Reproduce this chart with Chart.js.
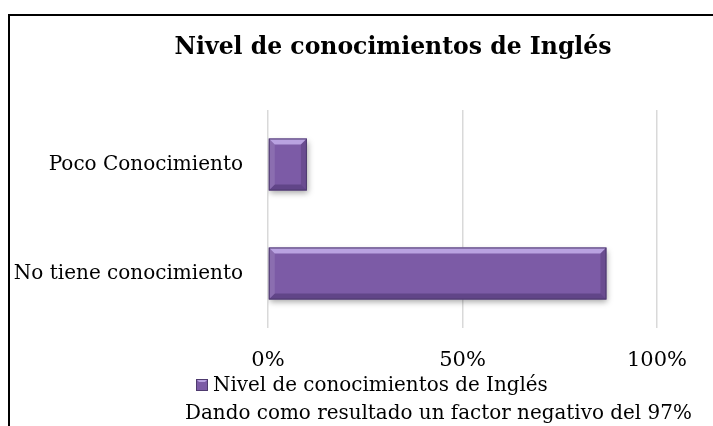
<!DOCTYPE html>
<html><head><meta charset="utf-8">
<script src="https://cdn.jsdelivr.net/npm/chart.js@4"></script>
<style>
html,body{margin:0;padding:0;background:#fff;overflow:hidden;}
#wrap{position:absolute;left:0;top:0;width:713px;height:426px;}
#frame{position:absolute;left:8px;top:14px;width:720px;height:430px;border-left:2px solid #000;border-top:2px solid #000;box-sizing:border-box;}
canvas{position:absolute;left:0;top:0;}
</style></head><body>
<div id="wrap"><canvas id="c" width="713" height="426"></canvas><div id="frame"></div></div>
<script>
const categories = ['Poco Conocimiento', 'No tiene conocimiento'];
const seriesName = 'Nivel de conocimientos de Inglés';
const values = [10, 87];
const xTickValues = [0, 50, 100];
const titleText = 'Nivel de conocimientos de Inglés';
const captionText = 'Dando como resultado un factor negativo del 97%';

const SERIF = '"DejaVu Serif", "Liberation Serif", serif';
const BAR = '#7c5ba6';

function fitFont(ctx, text, weight, target) {
  ctx.font = weight + ' 20px ' + SERIF;
  const w = ctx.measureText(text).width;
  const size = 20 * target / w;
  return weight + ' ' + size.toFixed(2) + 'px ' + SERIF;
}

const decor = {
  id: 'decor',
  beforeDatasetsDraw(chart) {
    const ctx = chart.ctx;
    ctx.save();
    ctx.shadowColor = 'rgba(0,0,0,0.35)';
    ctx.shadowBlur = 6;
    ctx.shadowOffsetX = 1;
    ctx.shadowOffsetY = 3;
  },
  afterDatasetsDraw(chart) {
    const ctx = chart.ctx;
    ctx.restore();
    const meta = chart.getDatasetMeta(0);
    meta.data.forEach(el => {
      const p = el.getProps(['x', 'y', 'base', 'height'], true);
      const l = Math.min(p.x, p.base), r = Math.max(p.x, p.base);
      const t = p.y - p.height / 2, b = p.y + p.height / 2;
      const bv = 6;
      ctx.save();
      ctx.fillStyle = 'rgba(200,180,240,0.8)';
      ctx.beginPath(); ctx.moveTo(l, t); ctx.lineTo(r, t); ctx.lineTo(r - bv, t + bv); ctx.lineTo(l + bv, t + bv); ctx.closePath(); ctx.fill();
      ctx.fillStyle = 'rgba(50,30,80,0.35)';
      ctx.beginPath(); ctx.moveTo(l, b); ctx.lineTo(r, b); ctx.lineTo(r - bv, b - bv); ctx.lineTo(l + bv, b - bv); ctx.closePath(); ctx.fill();
      ctx.fillStyle = 'rgba(50,30,80,0.25)';
      ctx.beginPath(); ctx.moveTo(r, t); ctx.lineTo(r, b); ctx.lineTo(r - bv, b - bv); ctx.lineTo(r - bv, t + bv); ctx.closePath(); ctx.fill();
      ctx.fillStyle = 'rgba(255,255,255,0.12)';
      ctx.beginPath(); ctx.moveTo(l, t); ctx.lineTo(l, b); ctx.lineTo(l + bv, b - bv); ctx.lineTo(l + bv, t + bv); ctx.closePath(); ctx.fill();
      ctx.strokeStyle = '#4e3a6e'; ctx.lineWidth = 1;
      ctx.strokeRect(l + 0.5, t + 0.5, r - l - 1, b - t - 1);
      ctx.restore();
    });
  },
  afterDraw(chart) {
    const ctx = chart.ctx;
    ctx.save();
    ctx.fillStyle = '#000';
    ctx.textBaseline = 'alphabetic';
    ctx.font = fitFont(ctx, titleText, 'bold', 437);
    ctx.textAlign = 'center';
    ctx.fillText(titleText, 393, 54);
    const lx = 196, ly = 379, s = 12;
    ctx.fillStyle = BAR;
    ctx.fillRect(lx, ly, s, s);
    ctx.fillStyle = 'rgba(200,180,240,0.8)';
    ctx.beginPath(); ctx.moveTo(lx, ly); ctx.lineTo(lx + s, ly); ctx.lineTo(lx + s - 3, ly + 3); ctx.lineTo(lx + 3, ly + 3); ctx.closePath(); ctx.fill();
    ctx.strokeStyle = '#4e3a6e'; ctx.lineWidth = 1; ctx.strokeRect(lx + 0.5, ly + 0.5, s - 1, s - 1);
    ctx.fillStyle = '#000';
    ctx.textAlign = 'left';
    const lbl = chart.data.datasets[0].label;
    ctx.font = fitFont(ctx, lbl, 'normal', 335);
    ctx.fillText(lbl, 213, 391);
    ctx.font = fitFont(ctx, captionText, 'normal', 507);
    ctx.fillText(captionText, 185, 419);
    ctx.restore();
  }
};

new Chart(document.getElementById('c'), {
  type: 'bar',
  data: {
    labels: categories,
    datasets: [{
      label: seriesName,
      data: values,
      backgroundColor: BAR,
      borderWidth: 0,
      barPercentage: 0.477,
      categoryPercentage: 1
    }]
  },
  options: {
    indexAxis: 'y',
    responsive: false,
    animation: false,
    layout: { padding: { left: 0, top: 110, right: 56, bottom: 38 } },
    plugins: { legend: { display: false }, title: { display: false }, tooltip: { enabled: false } },
    scales: {
      x: {
        min: 0, max: 100,
        afterBuildTicks(scale) { scale.ticks = xTickValues.map(v => ({ value: v })); },
        afterFit(scale) { scale.height = 60; },
        grid: { color: '#d9d9d9', lineWidth: 1.5, drawTicks: false },
        border: { display: false },
        ticks: { color: '#000', font: { family: SERIF, size: 21 }, padding: 20, callback: v => v + '%', maxRotation: 0 }
      },
      y: {
        afterFit(scale) { scale.width = 268; },
        grid: { display: false, drawTicks: false },
        border: { display: false },
        ticks: { color: '#000', font: { family: SERIF, size: 20 }, padding: 25 }
      }
    }
  },
  plugins: [decor]
});
</script>
</body></html>
